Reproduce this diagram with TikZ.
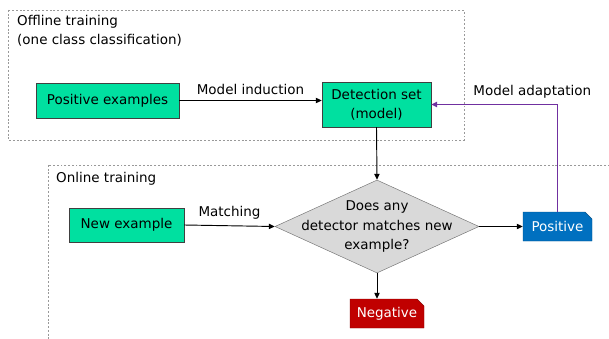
\documentclass[tikz,border=0pt]{standalone}
\usepackage{fontspec}
\setmainfont{DejaVu Sans}
\usetikzlibrary{shapes}
\usetikzlibrary{positioning}
\usetikzlibrary{arrows.meta}
\definecolor{boxgreen}{RGB}{0,224,160}
\definecolor{posblue}{RGB}{0,112,192}
\definecolor{negred}{RGB}{192,0,0}
\definecolor{adaptviolet}{RGB}{112,48,160}
\tikzset{
    mybox/.style = {rectangle, draw=black!75, fill=boxgreen, align=center, inner sep=0pt, text=black},
    mydiam/.style = {diamond, draw=black!55, fill=gray!30, inner sep=0pt},
    mytag/.style = {chamfered rectangle, chamfered rectangle corners=north east, chamfered rectangle xsep=3pt, chamfered rectangle ysep=3pt, inner sep=0pt, text=white},
    mytagb/.style = {mytag, draw=posblue!70!black, fill=posblue},
    mytagr/.style = {mytag, draw=negred!70!black, fill=negred},
    edgen/.style = {-{Triangle[length=5pt,width=4.5pt]}, thick, black},
    edgev/.style = {-{Triangle[length=5pt,width=4.5pt]}, line width=1.1pt, adaptviolet},
    framed/.style = {gray!80, thin, dash pattern=on 1.6pt off 1.6pt},
    every picture/.style={font issue=\fontsize{11.5}{16.6}},
    font issue/.style={execute at begin picture={#1\selectfont}}
}

\begin{document}
\begin{tikzpicture}[x=0.03cm, y=-0.03cm]
  \useasboundingbox (0,0) rectangle (609,339);
  % frames
  \draw[framed] (8,10) rectangle (464,140);
  \begin{scope}
    \clip (0,0) rectangle (609,339);
    \draw[framed] (48,165) rectangle (640,360);
  \end{scope}
  \node[anchor=north west, align=left, inner sep=0pt] (offtxt) at (17,15) {Offline training\\(one class classification)};
  \node[anchor=north west, inner sep=0pt] (ontxt) at (56,172) {Online training};
  % boxes
  \node[mybox, minimum width=4.29cm, minimum height=1.05cm] (posex) at (107.5,100.5) {Positive examples};
  \node[mybox, minimum width=3.27cm, minimum height=1.35cm] (detset) at (376.5,104.5) {Detection set\\(model)};
  \node[mybox, minimum width=3.45cm, minimum height=1.02cm] (newex) at (126.5,225) {New example};
  \node[mydiam, minimum width=6.12cm, minimum height=2.79cm] (decide) at (377,226.5) {};
  \node[align=center] (decidetxt) at (decide.center) {Does any\\detector matches new\\example?};
  \node[mytagb, minimum width=2.07cm, minimum height=0.87cm] (pos) at (557.5,226.5) {Positive};
  \node[mytagr, minimum width=2.22cm, minimum height=0.87cm] (neg) at (387,313.5) {Negative};
  % connectors
  \draw[edgen] (posex.east) -- node[above=1pt] (induct) {Model induction} (posex.east -| detset.west);
  \draw[edgen] (detset.south) -- (decide.north);
  \draw[edgen] (newex.east) -- node[above=1pt] (match) {Matching} (decide.west);
  \draw[edgen] (decide.east) -- (pos.west);
  \draw[edgen] (decide.south) -- (decide.south |- neg.north);
  \draw[edgev] (pos.north) |- node[pos=0.6, above=1pt, text=black] (adapt) {Model adaptation} (detset.east);
\end{tikzpicture}
\end{document}
